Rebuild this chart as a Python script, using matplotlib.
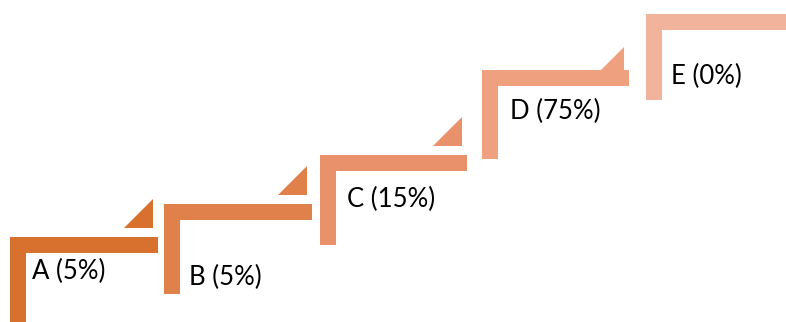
import matplotlib
matplotlib.use("Agg")
import matplotlib.pyplot as plt
from matplotlib.patches import Rectangle, Polygon

# step data (pixel layout of the SmartArt-like staircase)
labels = ["A (5%)", "B (5%)", "C (15%)", "D (75%)", "E (0%)"]
lefts = [10, 164, 320, 482, 646]
tops = [237, 204, 155, 70, 14]
arm_len = [148, 148, 147, 147, 150]
leg_len = [95, 90, 90, 89, 86]
colors = ["#D8712E", "#E0804A", "#E8916A", "#EEA07F", "#F2B39C"]
text_x = [32, 189, 347, 510, 671]
text_y = [271, 277, 199, 111, 76]

thick = 16
tri = 29

fig = plt.figure(figsize=(7.86, 3.22), dpi=100)
ax = fig.add_axes([0, 0, 1, 1])
ax.set_xlim(0, 786)
ax.set_ylim(322, 0)
ax.axis("off")

for i in range(len(labels)):
   x0, y0, c = lefts[i], tops[i], colors[i]
   # horizontal arm
   ax.add_patch(Rectangle((x0, y0), arm_len[i], thick, color=c, lw=0))
   # vertical leg
   ax.add_patch(Rectangle((x0, y0), thick, leg_len[i], color=c, lw=0))
   # little arrow triangle pointing to the next step
   if i < len(labels) - 1:
      xr = x0 + arm_len[i] - 5
      yb = y0 - 9 if i < 3 else y0 + 6
      ax.add_patch(Polygon([(xr - tri, yb), (xr, yb), (xr, yb - tri)],
                           closed=True, color=c, lw=0))
   ax.text(text_x[i], text_y[i], labels[i], fontsize=18.5, family="Lato",
           va="center", ha="left", color="black")

fig.savefig("out.png", dpi=100)
